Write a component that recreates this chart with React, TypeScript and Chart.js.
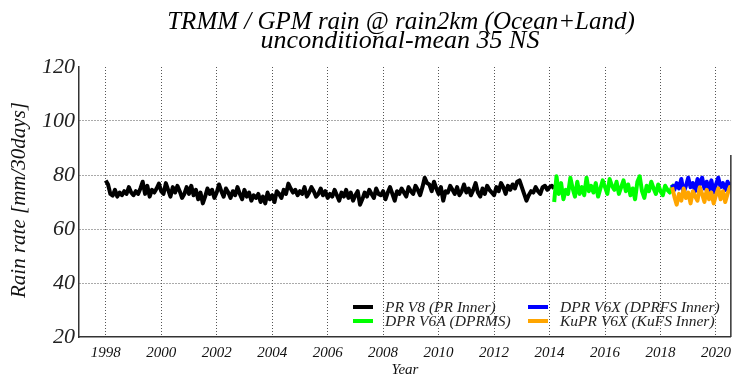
import React, { useEffect, useRef } from "react";
import { Chart, registerables } from "chart.js";

Chart.register(...registerables);

// ---- data (monthly means, mm/30days) ----
const TITLE_LINE1 = "TRMM / GPM rain @ rain2km (Ocean+Land)";
const TITLE_LINE2 = "unconditional-mean 35 NS";
const Y_TITLE = "Rain rate [mm/30days]";
const X_TITLE = "Year";

const X_TICKS = [1998, 2000, 2002, 2004, 2006, 2008, 2010, 2012, 2014, 2016, 2018, 2020];
const Y_TICKS = [20, 40, 60, 80, 100, 120];

const LABELS = [
  "PR V8 (PR Inner)",
  "DPR V6A (DPRMS)",
  "DPR V6X (DPRFS Inner)",
  "KuPR V6X (KuFS Inner)",
];
const COLORS = ["#000000", "#00ff00", "#0000ff", "#ffa500"];

// PR V8: Jan 1998 .. Mar 2014
const PR_START = [1998, 1];
const PR_V8 = [
  78.0, 76.5, 73.0, 72.4, 74.5, 72.0, 73.5, 72.5, 74.0, 73.0, 75.5, 73.5,
  72.5, 74.0, 73.0, 75.0, 77.5, 73.0, 76.0, 72.0, 74.5, 73.5, 75.0, 76.8,
  74.0, 73.0, 77.0, 74.5, 72.0, 75.5, 73.5, 76.0, 74.0, 71.5, 73.0, 75.5,
  73.0, 76.0, 72.5, 74.5, 71.0, 73.5, 69.5, 72.0, 75.0, 73.0, 74.5, 71.5,
  73.5, 76.5, 74.0, 72.0, 75.0, 73.5, 71.5, 74.0, 72.5, 75.5, 73.0, 71.0,
  74.5, 72.0, 73.5, 70.5, 72.5, 71.5, 73.0, 70.0, 72.0, 69.5, 73.5, 71.0,
  72.5, 70.0, 74.0, 73.0, 71.5, 74.5, 73.0, 76.8, 75.0, 73.5, 74.5, 72.5,
  74.0, 73.0, 75.5, 72.0, 73.5, 75.5, 74.0, 72.0, 73.0, 75.0, 72.5, 74.0,
  71.5, 73.0, 72.0, 74.5, 72.5, 70.5, 73.5, 72.0, 74.5, 71.5, 73.5, 70.5,
  72.5, 74.0, 69.0, 71.0, 73.5, 72.0, 74.5, 73.0, 71.5, 75.0, 73.0, 72.5,
  74.0, 71.0, 73.5, 75.5, 73.0, 70.5, 74.0, 73.0, 75.0, 73.5, 72.0, 75.5,
  74.0, 73.0, 76.0, 74.5, 72.5, 75.5, 79.0, 77.0, 76.5, 74.0, 77.5, 75.0,
  73.0, 75.5, 70.5, 74.0, 73.5, 76.0, 74.5, 73.0, 75.5, 72.5, 74.0, 76.5,
  73.5, 75.0, 72.5, 74.5, 77.0, 73.5, 72.0, 75.0, 73.0, 76.0, 74.5, 73.5,
  72.5, 75.5, 74.0, 77.0, 75.5, 73.0, 76.0, 74.5, 76.5, 75.0, 77.5, 78.0,
  75.5, 73.0, 70.5, 72.5, 74.0, 73.5, 75.5, 74.0, 73.0, 75.5, 76.0, 74.5,
  75.5, 76.0, 75.0,
];

// DPR V6A: Mar 2014 .. Jul 2018
const DPR_MS_START = [2014, 3];
const DPR_V6A = [
  70.0, 79.5, 73.0, 77.0, 71.0, 74.5, 73.0, 79.0, 75.0, 72.0,
  77.5, 73.0, 75.5, 72.5, 79.0, 74.0, 76.0, 73.5, 77.0, 72.0, 75.0, 78.0,
  75.5, 73.0, 78.5, 76.0, 74.5, 77.5, 73.0, 75.5, 78.0, 74.0, 76.5, 72.5,
  75.0, 71.0, 77.5, 79.5, 74.0, 71.5, 76.0, 74.0, 77.5, 75.0, 73.0, 76.5,
  74.0, 72.5, 76.0, 74.5, 73.5, 75.5, 76.5,
];

// DPR V6X / KuPR V6X: Jun 2018 .. Aug 2020
const V6X_START = [2018, 6];
const DPR_V6X = [
  76.5, 74.5, 77.0, 75.0, 78.5, 73.5, 76.0, 79.0, 75.5, 77.0, 74.0, 78.5,
  76.5, 79.0, 75.0, 77.5, 74.5, 78.0, 73.5, 76.5, 79.0, 75.5, 77.0, 74.5,
  77.5, 76.0, 77.0,
];
const KUPR_V6X = [
  75.5, 72.0, 69.0, 73.0, 70.5, 75.0, 71.5, 73.5, 69.5, 74.0, 72.0, 70.5,
  75.5, 73.0, 70.0, 74.5, 71.0, 73.5, 69.5, 72.5, 75.0, 71.0, 74.0, 70.0,
  73.0, 75.5, 74.5,
];

const X_MIN = 1997.036;
const X_MAX = 2020.536;

function toPoints(start: number[], values: number[]) {
  return values.map((v, i) => ({ x: start[0] + (start[1] - 1 + i) / 12, y: v }));
}

const SERIF = "'Liberation Serif', 'DejaVu Serif', serif";

const overlayPlugin = {
  id: "overlay",
  afterDraw(chart: any) {
    const ctx = chart.ctx as CanvasRenderingContext2D;
    const area = chart.chartArea;
    ctx.save();
    // titles
    ctx.fillStyle = "#000";
    ctx.textAlign = "center";
    ctx.textBaseline = "alphabetic";
    ctx.font = `italic 25px ${SERIF}`;
    ctx.fillText(TITLE_LINE1, 401, 29);
    ctx.font = `italic 26px ${SERIF}`;
    ctx.fillText(TITLE_LINE2, 400, 48);
    // y title
    ctx.save();
    ctx.translate(19, 200);
    ctx.rotate(-Math.PI / 2);
    ctx.font = `italic 21px ${SERIF}`;
    ctx.fillStyle = "#111";
    ctx.textBaseline = "middle";
    ctx.fillText(Y_TITLE, 0, 0);
    ctx.restore();
    // x title
    ctx.font = `italic 15px ${SERIF}`;
    ctx.fillStyle = "#111";
    ctx.fillText(X_TITLE, (area.left + area.right) / 2, 374);
    // right border (partial)
    ctx.strokeStyle = "#333";
    ctx.lineWidth = 1.5;
    ctx.beginPath();
    ctx.moveTo(area.right, 155);
    ctx.lineTo(area.right, area.bottom);
    ctx.stroke();
    // legend
    const cols = [353, 528];
    const rows = [307, 321];
    ctx.font = `italic 15.5px ${SERIF}`;
    ctx.textAlign = "left";
    ctx.textBaseline = "middle";
    LABELS.forEach((label, i) => {
      const col = i === 0 || i === 1 ? 0 : 1;
      const row = i === 0 || i === 2 ? 0 : 1;
      const x = cols[col];
      const y = rows[row];
      ctx.strokeStyle = COLORS[i];
      ctx.lineWidth = 4;
      ctx.beginPath();
      ctx.moveTo(x, y);
      ctx.lineTo(x + 20, y);
      ctx.stroke();
      ctx.fillStyle = "#222";
      ctx.fillText(label, x + 32, y + 1);
    });
    ctx.restore();
  },
};

export default function App() {
  const canvasRef = useRef<HTMLCanvasElement | null>(null);

  useEffect(() => {
    const canvas = canvasRef.current;
    if (!canvas) return;
    const gridColor = (c: any) =>
      c.tick && (c.tick.value === 120 || c.tick.value === 20) ? "rgba(0,0,0,0)" : "#555";
    const chart = new Chart(canvas, {
      type: "line",
      data: {
        datasets: [
          { label: LABELS[0], data: toPoints(PR_START, PR_V8), borderColor: COLORS[0], order: 4 },
          { label: LABELS[1], data: toPoints(DPR_MS_START, DPR_V6A), borderColor: COLORS[1], order: 3 },
          { label: LABELS[2], data: toPoints(V6X_START, DPR_V6X), borderColor: COLORS[2], order: 2 },
          { label: LABELS[3], data: toPoints(V6X_START, KUPR_V6X), borderColor: COLORS[3], order: 1 },
        ].map((d) => ({
          ...d,
          borderWidth: 4,
          pointRadius: 0,
          tension: 0,
          fill: false,
          borderJoinStyle: "round" as const,
        })),
      },
      options: {
        animation: false,
        responsive: false,
        maintainAspectRatio: false,
        layout: { padding: { top: 67, right: 1, left: 0, bottom: 0 } },
        plugins: {
          legend: { display: false },
          title: { display: false },
          tooltip: { enabled: false },
        },
        scales: {
          x: {
            type: "linear",
            min: X_MIN,
            max: X_MAX,
            afterBuildTicks: (s: any) => {
              s.ticks = X_TICKS.map((v) => ({ value: v }));
            },
            afterFit: (s: any) => {
              s.height = 37;
            },
            ticks: {
              autoSkip: false,
              maxRotation: 0,
              padding: 7,
              color: "#111",
              font: { family: SERIF, style: "italic", size: 15 },
              callback: (v: any) => String(v),
            },
            grid: { color: "#555", lineWidth: 1, drawTicks: false },
            border: { display: true, color: "#333", width: 1.5, dash: [1, 2] },
          },
          y: {
            min: 20,
            max: 120,
            afterBuildTicks: (s: any) => {
              s.ticks = Y_TICKS.map((v) => ({ value: v }));
            },
            afterFit: (s: any) => {
              s.width = 79;
            },
            ticks: {
              padding: 4,
              color: "#222",
              font: { family: SERIF, style: "italic", size: 22 },
              callback: (v: any) => String(v),
            },
            grid: { color: gridColor, lineWidth: 1, drawTicks: false },
            border: { display: true, color: "#333", width: 1.5, dash: [1, 2] },
          },
        },
      },
      plugins: [overlayPlugin],
    });
    return () => chart.destroy();
  }, []);

  return (
    <div style={{ position: "fixed", left: 0, top: 0, width: 738, height: 374, background: "#fff" }}>
      <canvas ref={canvasRef} width={738} height={374} style={{ width: 738, height: 374, display: "block" }} />
    </div>
  );
}
